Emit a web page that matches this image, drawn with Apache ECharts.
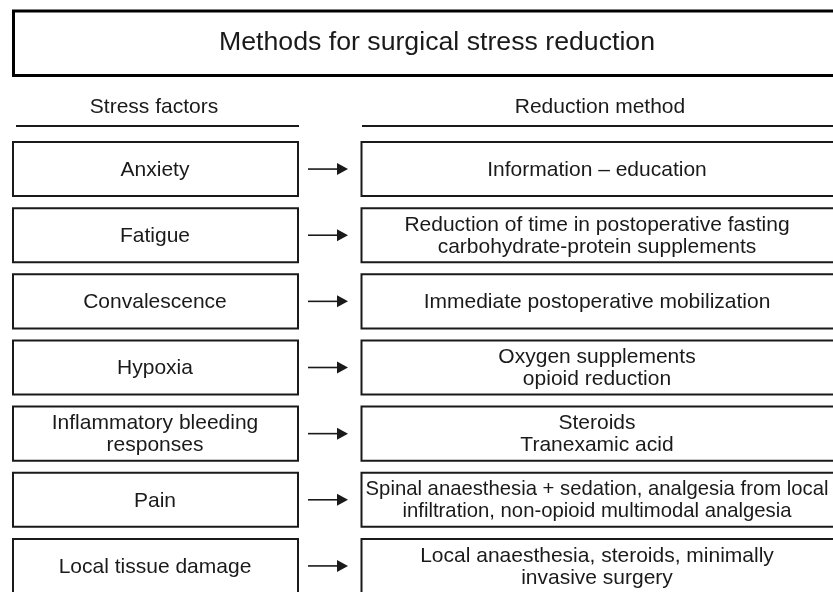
<!DOCTYPE html>
<html><head><meta charset="utf-8">
<script src="https://cdn.jsdelivr.net/npm/echarts@6/dist/echarts.min.js"></script>
<style>html,body{margin:0;padding:0;background:#fff}#c{width:833px;height:592px}</style>
</head><body><div id="c"></div>
<script>
const titleText = 'Methods for surgical stress reduction';
const columnHeaders = ['Stress factors', 'Reduction method'];
const stressFactors = [
  'Anxiety',
  'Fatigue',
  'Convalescence',
  'Hypoxia',
  'Inflammatory bleeding\nresponses',
  'Pain',
  'Local tissue damage'
];
const reductionMethods = [
  'Information \u2013 education',
  'Reduction of time in postoperative fasting\ncarbohydrate-protein supplements',
  'Immediate postoperative mobilization',
  'Oxygen supplements\nopioid reduction',
  'Steroids\nTranexamic acid',
  'Spinal anaesthesia + sedation, analgesia from local\ninfiltration, non-opioid multimodal analgesia',
  'Local anaesthesia, steroids, minimally\ninvasive surgery'
];

const FONT = '"Liberation Sans", Arial, Helvetica, sans-serif';
const INK = '#1a1a1a';
// horizontal layout (x axis units = px across the page)
const L = {leftX0: 13, leftX1: 298, arrowX0: 308, arrowX1: 348, rightX0: 361.5, rightX1: 850, leftCx: 155, rightCx: 597};
const methodFontSize = function (idx) { return idx === 5 ? 20.3 : 21; };

const chart = echarts.init(document.getElementById('c'), null, {renderer: 'canvas'});
const rows = stressFactors.map((f, i) => [i, f, reductionMethods[i]]);

chart.setOption({
  animation: false,
  backgroundColor: '#fff',
  grid: {left: 0, width: 833, top: 136, height: 463, outerBoundsMode: 'none', containLabel: false},
  xAxis: {type: 'value', min: 0, max: 833, show: false},
  yAxis: {type: 'category', inverse: true, data: stressFactors.map((f, i) => i), show: false},
  graphic: [
    {type: 'rect', silent: true, shape: {x: 13.5, y: 11, width: 840, height: 64.5},
     style: {fill: '#fff', stroke: '#000', lineWidth: 3}},
    {type: 'text', silent: true, style: {text: titleText, x: 437, y: 43, align: 'center', verticalAlign: 'middle',
     font: '26.7px ' + FONT, fill: INK}},
    {type: 'text', silent: true, style: {text: columnHeaders[0], x: 154, y: 107, align: 'center', verticalAlign: 'middle',
     font: '21px ' + FONT, fill: INK}},
    {type: 'text', silent: true, style: {text: columnHeaders[1], x: 600, y: 107, align: 'center', verticalAlign: 'middle',
     font: '21px ' + FONT, fill: INK}},
    {type: 'line', silent: true, shape: {x1: 16, y1: 126, x2: 299, y2: 126}, style: {stroke: INK, lineWidth: 2}},
    {type: 'line', silent: true, shape: {x1: 362, y1: 126, x2: 850, y2: 126}, style: {stroke: INK, lineWidth: 2}}
  ],
  series: [{
    type: 'custom',
    data: rows,
    encode: {y: 0},
    clip: false,
    renderItem: function (params, api) {
      const i = api.value(0);
      const yc = api.coord([0, i])[1];
      const band = api.size([0, 1])[1];
      const h = band * 0.817;
      const x = v => api.coord([v, i])[0];
      const d = rows[params.dataIndex];
      return {
        type: 'group',
        children: [
          {type: 'rect', shape: {x: x(L.leftX0), y: yc - h / 2, width: x(L.leftX1) - x(L.leftX0), height: h},
           style: {fill: '#fff', stroke: INK, lineWidth: 2}},
          {type: 'text', style: {text: d[1], x: x(L.leftCx), y: yc + 1, align: 'center', verticalAlign: 'middle',
           font: '21px ' + FONT, lineHeight: 22, fill: INK}},
          {type: 'line', shape: {x1: x(L.arrowX0), y1: yc, x2: x(L.arrowX1) - 10, y2: yc},
           style: {stroke: INK, lineWidth: 1.6}},
          {type: 'polygon', shape: {points: [[x(L.arrowX1) - 11, yc - 6], [x(L.arrowX1), yc], [x(L.arrowX1) - 11, yc + 6]]},
           style: {fill: INK}},
          {type: 'rect', shape: {x: x(L.rightX0), y: yc - h / 2, width: x(L.rightX1) - x(L.rightX0), height: h},
           style: {fill: '#fff', stroke: INK, lineWidth: 2}},
          {type: 'text', style: {text: d[2], x: x(L.rightCx), y: yc + 1, align: 'center', verticalAlign: 'middle',
           font: methodFontSize(params.dataIndex) + 'px ' + FONT, lineHeight: 22, fill: INK}}
        ]
      };
    }
  }]
});
</script>
</body></html>
